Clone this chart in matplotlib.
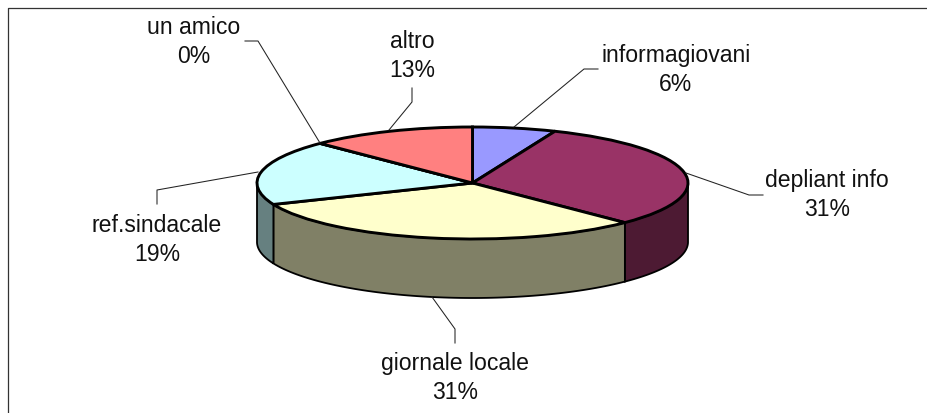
import numpy as np
import matplotlib
matplotlib.use('Agg')
import matplotlib.pyplot as plt
from matplotlib.transforms import Affine2D

plt.rcParams['font.family']=['Liberation Sans','DejaVu Sans']

categories=['informagiovani','depliant info','giornale locale','ref.sindacale','un amico','altro']
shares=[6.25,31.25,31.25,18.75,0,12.5]
percent_labels=['6%','31%','31%','19%','0%','13%']
top_colors=['#9999FF','#993366','#FFFFCC','#CCFFFF','#FFFFFF','#FF8080']
side_colors=['#4D4D80','#4D1A33','#808066','#668080','#808080','#804040']

# pixel layout of the label texts and their leader lines
label_pos=[(676,70),(827,195),(455,378),(157,240),(194,42),(412,56)]
leaders=[[(598,69),(584,69),(514,127)],
         [(763,195),(749,195),(686,173)],
         [(455,343),(455,329),(432,297)],
         [(157,204),(157,190),(258,172)],
         [(245,41),(258,41),(320,143)],
         [(412,88),(412,102),(389,130)]]

W,H=927,413
cx,cy,rx,ry,depth=472.5,183,215.5,56,59

fig=plt.figure(figsize=(W/100,H/100),dpi=100,facecolor='white')
ax=fig.add_axes([0,0,1,1])
pix=Affine2D().scale(1/W,-1/H).translate(0,1)+fig.transFigure

# side walls, only the front half of the disc (90-270 deg clockwise from top)
d=depth/ry
edges=np.cumsum([0]+shares)/sum(shares)*360
for i in range(len(shares)):
    a=max(edges[i],90)
    b=min(edges[i+1],270)
    if b<=a:
        continue
    t=np.radians(np.linspace(a,b,80))
    x=np.sin(t)
    y=np.cos(t)
    ax.fill(np.r_[x,x[::-1]],np.r_[y,y[::-1]-d],facecolor=side_colors[i],edgecolor='black',linewidth=1.3,zorder=1)

ax.pie(shares,colors=top_colors,startangle=90,counterclock=False,radius=1,
       wedgeprops=dict(edgecolor='black',linewidth=2.1))
ax.set_aspect('auto')
ax.set_xlim(-cx/rx,(W-cx)/rx)
ax.set_ylim((cy-H)/ry,cy/ry)
ax.axis('off')

for i in range(len(categories)):
    xs=[p[0] for p in leaders[i]]
    ys=[p[1] for p in leaders[i]]
    ax.plot(xs,ys,color='#222222',linewidth=0.75,transform=pix,clip_on=False,zorder=5)
    ax.text(label_pos[i][0],label_pos[i][1],categories[i]+'\n'+percent_labels[i],transform=pix,
            ha='center',va='center',fontsize=16.6,linespacing=1.37,color='#111111',zorder=6)

# chart frame, left and top edges only are in view
ax.plot([8,8,W],[H,7.5,7.5],color='#333333',linewidth=0.9,transform=pix,clip_on=False)

fig.savefig('out.png',dpi=100)
